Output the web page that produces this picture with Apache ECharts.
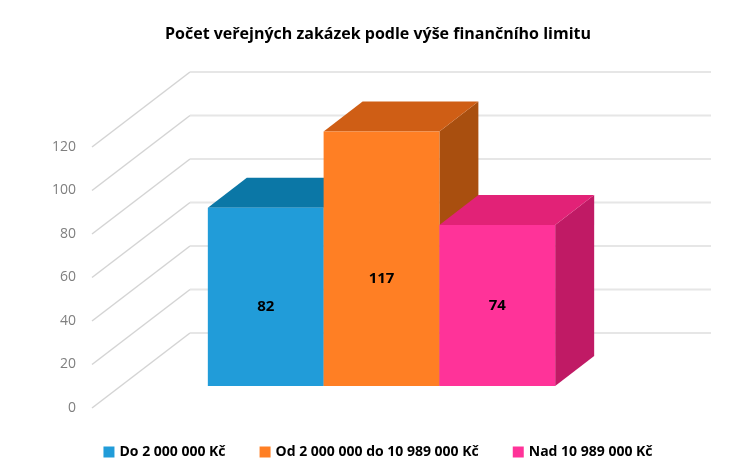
<!DOCTYPE html>
<html>
<head>
<meta charset="utf-8">
<title>Počet veřejných zakázek</title>
<script src="https://cdn.jsdelivr.net/npm/echarts@6/dist/echarts.min.js"></script>
<style>
    html, body { margin: 0; padding: 0; background: #fff; }
    #main1 { width: 756px; height: 472px; }
</style>
</head>
<body>
<div id="main1"></div>
<script>
    var categories = ['Počet zakázek'];
    var seriesNames = ['Do 2 000 000 Kč', 'Od 2 000 000 do 10 989 000 Kč', 'Nad 10 989 000 Kč'];
    var seriesValues = [82, 117, 74];
    var yTicks = [0, 20, 40, 60, 80, 100, 120];

    var frontColors = ['#219cd9', '#ff7f24', '#ff3399'];
    var topColors = ['#0b77a6', '#cf5e15', '#e22277'];
    var sideColors = ['#08597c', '#a94f0f', '#c01a65'];
    // labels do not sit in the middle of the bars in the original
    var labelShift = [10, 20, 0];

    var fontName = '"Open Sans", "Noto Sans", sans-serif';
    // 3D look: floor depth, where bars stand on the floor, bar depth
    var floor = [98, -75];
    var barStart = [29, -22];
    var barDepth = [39, -30];
    var gapRatio = 0.5;

    function renderWall(params, api) {
        var left = api.coord([0, api.value(1)]);
        var band = api.size([1, 0])[0];
        var back = [left[0] - band / 2 + floor[0], left[1] + floor[1]];
        return {
            type: 'group',
            children: [{
                type: 'line',
                shape: { x1: left[0] - band / 2, y1: left[1], x2: back[0], y2: back[1] },
                style: { stroke: '#d4d4d4', lineWidth: 1.5 }
            }, {
                type: 'line',
                shape: { x1: back[0], y1: back[1], x2: back[0] + band, y2: back[1] },
                style: { stroke: '#e6e6e6', lineWidth: 2 }
            }]
        };
    }

    function makeBar(i) {
        return function (params, api) {
            var band = api.size([1, 0])[0];
            var w = band / (seriesValues.length + gapRatio * 3);
            var top = api.coord([0, api.value(1)]);
            var base = api.coord([0, 0]);
            var x0 = top[0] + barStart[0] + (i - seriesValues.length / 2) * w;
            var x1 = x0 + w;
            var y0 = top[1] + barStart[1];
            var y1 = base[1] + barStart[1];
            var dx = barDepth[0];
            var dy = barDepth[1];
            return {
                type: 'group',
                children: [{
                    type: 'polygon',
                    shape: { points: [[x1, y0], [x1 + dx, y0 + dy], [x1 + dx, y1 + dy], [x1, y1]] },
                    style: { fill: sideColors[i] }
                }, {
                    type: 'polygon',
                    shape: { points: [[x0, y0], [x0 + dx, y0 + dy], [x1 + dx, y0 + dy], [x1, y0]] },
                    style: { fill: topColors[i] }
                }, {
                    type: 'rect',
                    shape: { x: x0, y: y0, width: w, height: y1 - y0 },
                    style: { fill: frontColors[i] }
                }, {
                    type: 'text',
                    x: (x0 + x1) / 2,
                    y: (y0 + y1) / 2 + labelShift[i],
                    style: {
                        text: String(api.value(1)),
                        fill: '#000',
                        font: 'bold 15px ' + fontName,
                        align: 'center',
                        verticalAlign: 'middle'
                    }
                }]
            };
        };
    }

    var series = [{
        name: 'walls',
        type: 'custom',
        renderItem: renderWall,
        silent: true,
        data: yTicks.map(function (t) { return [0, t]; })
    }];
    for (let i = 0; i < seriesValues.length; i++) {
        series.push({
            name: seriesNames[i],
            type: 'custom',
            renderItem: makeBar(i),
            itemStyle: { color: frontColors[i] },
            data: [[0, seriesValues[i]]]
        });
    }

    var chart = echarts.init(document.getElementById('main1'), null, { renderer: 'canvas' });
    chart.setOption({
        animation: false,
        backgroundColor: '#fff',
        title: {
            text: 'Počet veřejných zakázek podle výše finančního limitu',
            left: 'center',
            top: 21,
            textStyle: { color: '#000', fontSize: 16, fontWeight: 'bold', fontFamily: fontName }
        },
        legend: {
            data: seriesNames,
            left: 'center',
            top: 440,
            icon: 'rect',
            itemWidth: 11,
            itemHeight: 11,
            itemGap: 34,
            textStyle: { color: '#000', fontSize: 14, fontWeight: 'bold', fontFamily: fontName }
        },
        grid: { left: 92, top: 147, width: 521, height: 261 },
        xAxis: { type: 'category', data: categories, show: false },
        yAxis: {
            type: 'value',
            min: 0,
            max: 120,
            interval: 20,
            splitLine: { show: false },
            axisLine: { show: false },
            axisTick: { show: false },
            axisLabel: { color: '#7f7f7f', fontSize: 14, margin: 16, fontFamily: fontName }
        },
        series: series
    });
</script>
</body>
</html>
